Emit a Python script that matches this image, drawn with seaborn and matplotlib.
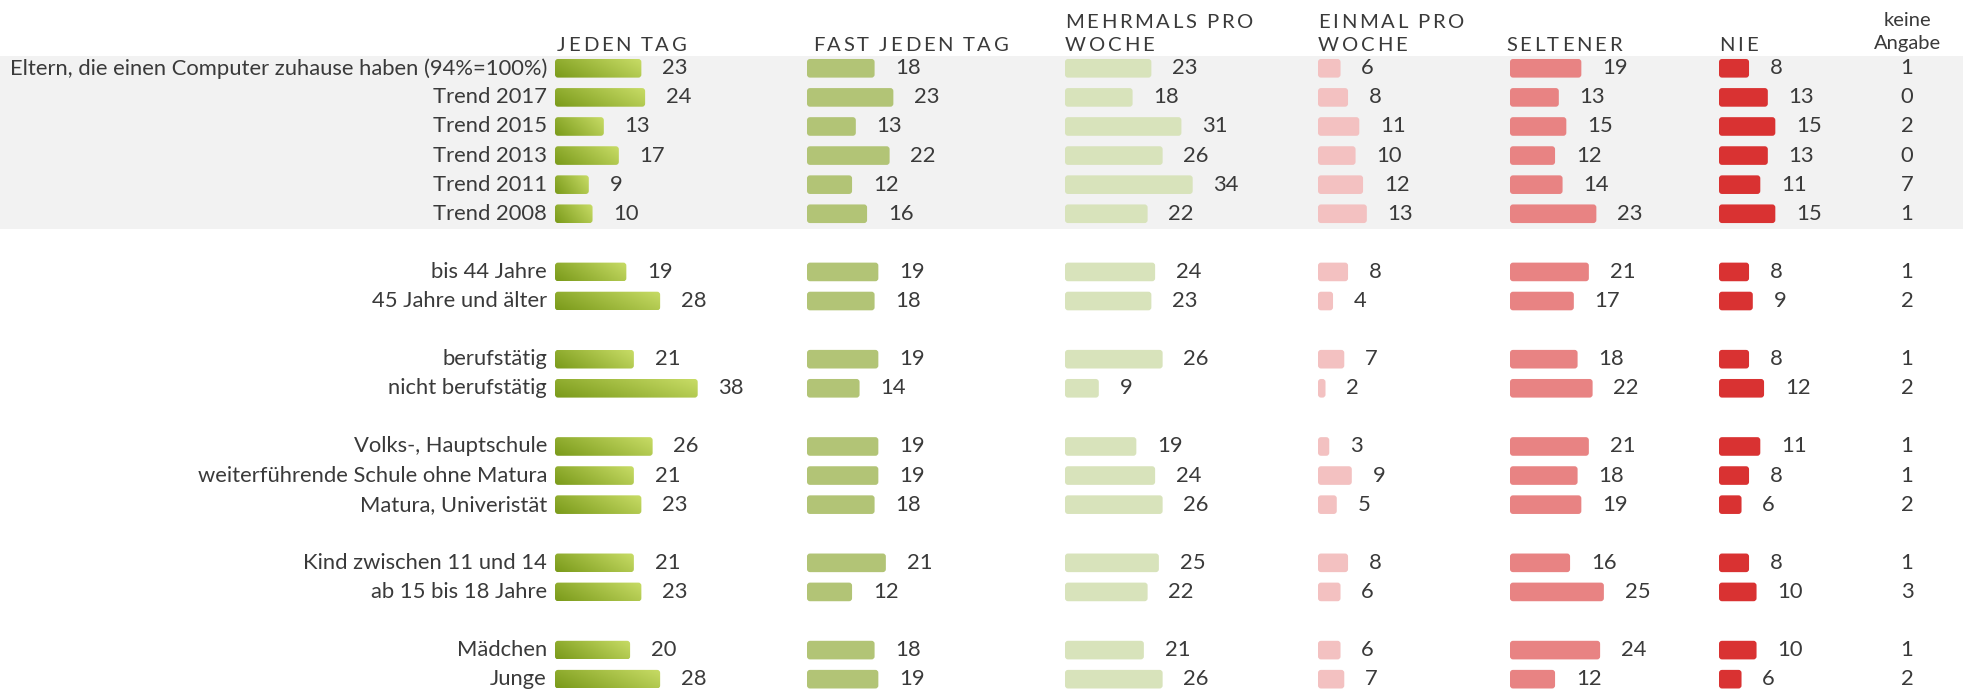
import numpy as np
import pandas as pd
import matplotlib
matplotlib.use("Agg")
import matplotlib.pyplot as plt
from matplotlib.patches import FancyBboxPatch
from matplotlib.colors import LinearSegmentedColormap
import seaborn as sns

# ---------------- data ----------------
labels = ["Eltern, die einen Computer zuhause haben (94%=100%)", "Trend 2017", "Trend 2015",
          "Trend 2013", "Trend 2011", "Trend 2008",
          "bis 44 Jahre", "45 Jahre und älter",
          "berufstätig", "nicht berufstätig",
          "Volks-, Hauptschule", "weiterführende Schule ohne Matura", "Matura, Univeristät",
          "Kind zwischen 11 und 14", "ab 15 bis 18 Jahre",
          "Mädchen", "Junge"]
group_sizes = [6, 2, 2, 3, 2, 2]

jeden_tag = [23, 24, 13, 17, 9, 10, 19, 28, 21, 38, 26, 21, 23, 21, 23, 20, 28]
fast_jeden_tag = [18, 23, 13, 22, 12, 16, 19, 18, 19, 14, 19, 19, 18, 21, 12, 18, 19]
mehrmals = [23, 18, 31, 26, 34, 22, 24, 23, 26, 9, 19, 24, 26, 25, 22, 21, 26]
einmal = [6, 8, 11, 10, 12, 13, 8, 4, 7, 2, 3, 9, 5, 8, 6, 6, 7]
seltener = [19, 13, 15, 12, 14, 23, 21, 17, 18, 22, 21, 18, 19, 16, 25, 24, 12]
nie = [8, 13, 15, 13, 11, 15, 8, 9, 8, 12, 11, 8, 6, 8, 10, 10, 6]
keine_angabe = [1, 0, 2, 0, 7, 1, 1, 2, 1, 2, 1, 1, 2, 1, 3, 1, 2]

headers = [["JEDEN TAG"], ["FAST JEDEN TAG"], ["MEHRMALS PRO", "WOCHE"],
           ["EINMAL PRO", "WOCHE"], ["SELTENER"], ["NIE"]]
header_last = ["keine", "Angabe"]

# ---------------- style ----------------
sns.set_style("white")
plt.rcParams['font.family'] = ['Lato', 'DejaVu Sans']
TXT = "#3a3a3a"
col_colors = [None, "#b2c476", "#d8e3bb", "#f3c1c1", "#e88383", "#d93232"]
grad_dark, grad_light = "#7a9a1a", "#c8dc66"
FS = 15.8

W, H = 1963, 692
fig = plt.figure(figsize=(W / 100, H / 100), dpi=100)

# slot layout (one blank slot between groups)
slots = []
s = 0
for g in group_sizes:
    slots.extend(range(s, s + g))
    s += g + 1

y0_px, step_px = 68.3, 29.09
def px2slot(p):
    return (p - y0_px) / step_px
ylim = (px2slot(H), px2slot(0))

bg = fig.add_axes([0, 0, 1, 1])
bg.set_xlim(0, W)
bg.set_ylim(*ylim)
bg.axis("off")
bg.axhspan(px2slot(56), px2slot(229), color="#f2f2f2", zorder=0, lw=0)

# row labels
for lab, sl in zip(labels, slots):
    bg.text(547, sl, lab, ha="right", va="center", fontsize=FS, color=TXT)

# keine Angabe values
for v, sl in zip(keine_angabe, slots):
    bg.text(1907, sl, str(v), ha="center", va="center", fontsize=FS, color=TXT)

renderer = fig.canvas.get_renderer()
def tracked(x, y, s, fs=14.6, track=2.7, space=4.5):
    cur = x
    for ch in s:
        if ch == " ":
            cur += space + track
            continue
        t = bg.text(cur, y, ch, ha="left", va="baseline", fontsize=fs, color=TXT)
        bb = t.get_window_extent(renderer)
        cur += bb.width + track

col_starts = [555, 807, 1065, 1318, 1510, 1719]
hdr_x = [557, 813, 1065, 1318, 1506, 1719]
base_bottom, base_top = px2slot(51), px2slot(28)
for hx, lines in zip(hdr_x, headers):
    if len(lines) == 1:
        tracked(hx, base_bottom, lines[0])
    else:
        tracked(hx, base_top, lines[0])
        tracked(hx, base_bottom, lines[1])
bg.text(1907, px2slot(26), header_last[0], ha="center", va="baseline", fontsize=14.5, color=TXT)
bg.text(1907, px2slot(49.5), header_last[1], ha="center", va="baseline", fontsize=14.5, color=TXT)

# ---------------- bars ----------------
px_per_unit = 3.755
series = [jeden_tag, fast_jeden_tag, mehrmals, einmal, seltener, nie]
cmap = LinearSegmentedColormap.from_list("g", [grad_dark, grad_light])
r_px = 3.0
for ci, (cx, vals) in enumerate(zip(col_starts, series)):
    wpx = 240
    ax = fig.add_axes([cx / W, 0, wpx / W, 1])
    ax.patch.set_alpha(0)
    df = pd.DataFrame({"slot": slots, "value": vals})
    sns.barplot(data=df, x="value", y="slot", orient="h", native_scale=True,
                width=0.64, color=col_colors[ci] or grad_light, saturation=1,
                linewidth=0, ax=ax, err_kws={"linewidth": 0})
    ax.set_xlim(0, wpx / px_per_unit)
    ax.set_ylim(*ylim)
    ax.axis("off")
    cont = ax.containers[0]
    rs = r_px / px_per_unit
    asp = (r_px / step_px) / rs
    for p in cont.patches:
        x0, yb, w, h = p.get_x(), p.get_y(), p.get_width(), p.get_height()
        fb = FancyBboxPatch((x0, yb), w, h, boxstyle=f"round,pad=0,rounding_size={rs}",
                            mutation_aspect=asp, lw=0,
                            facecolor=col_colors[ci] if col_colors[ci] else "none")
        ax.add_patch(fb)
        p.set_visible(False)
        if ci == 0:
            nx, ny = 200, 20
            u = np.linspace(0, 1, nx)[None, :]
            v = np.linspace(1, 0, ny)[:, None]
            arr = 0.72 * u + 0.28 * v
            im = ax.imshow(arr, cmap=cmap, extent=(x0, x0 + w, yb + h, yb),
                           origin="upper", aspect="auto", interpolation="bilinear", zorder=2)
            im.set_clip_path(fb)
    ax.bar_label(cont, labels=[str(v) for v in vals], padding=15,
                 fontsize=FS, color=TXT)
    ax.set_xlim(0, wpx / px_per_unit)
    ax.set_ylim(*ylim)

fig.savefig("out.png", dpi=100)
